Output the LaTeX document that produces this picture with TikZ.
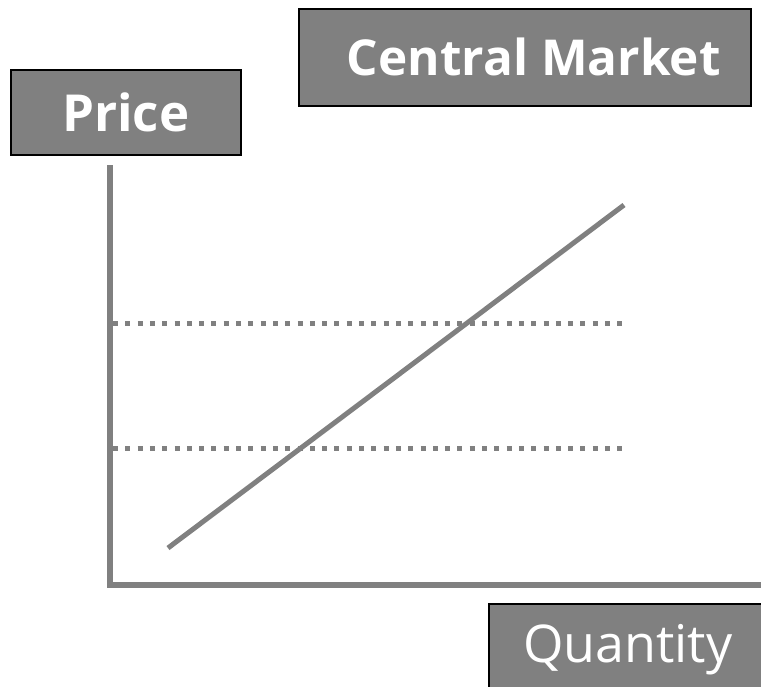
\documentclass[tikz,border=0pt]{standalone}
\usepackage{fontspec}
\setmainfont{Open Sans}
\usepackage{tikz}
\usepackage{xcolor}
\usetikzlibrary{
    calc,
    positioning
}
\definecolor{mgray}{HTML}{808080}
\tikzset{lbox/.style={draw=black, line width=1.5pt, fill=mgray, text=white, inner sep=0pt, anchor=north west}}
\tikzset{axis/.style={draw=mgray, line width=5.5pt}}
\tikzset{lvl/.style={draw=mgray, line width=5pt, dash pattern=on 5pt off 7.3pt}}

\begin{document}
\begin{tikzpicture}[x=1pt, y=-1pt]
    \clip (0, 0) rectangle (761, 686);
    \node[lbox, minimum width=230pt, minimum height=85pt, font=\fontsize{51}{55}\selectfont\bfseries] (price) at (10, 69) {Price};
    \node[lbox, minimum width=452pt, minimum height=97pt, font=\fontsize{49.5}{55}\selectfont\bfseries] (cm) at (298, 8) {\hspace{18pt}Central Market};
    \node[lbox, minimum width=278pt, minimum height=92pt, font=\fontsize{52}{55}\selectfont] (qty) at (488, 603) {Quantity};
    \coordinate (top) at (110, 165);
    \coordinate (o) at (110, 587.8);
    \coordinate (xend) at (765, 585);
    \coordinate (s0) at (168, 548);
    \coordinate (s1) at (624, 205);
    \coordinate (p1a) at (113, 323);
    \coordinate (p1b) at (624, 323);
    \coordinate (p2a) at (113, 448);
    \coordinate (p2b) at (624, 448);
    \draw[lvl] (p1a) -- (p1b);
    \draw[lvl] (p2a) -- (p2b);
    \draw[axis] (top) -- (o);
    \draw[axis] (o |- xend) ++(-2.75, 0) -- (xend);
    \draw[axis, line width=5pt] (s0) -- (s1);
\end{tikzpicture}
\end{document}
